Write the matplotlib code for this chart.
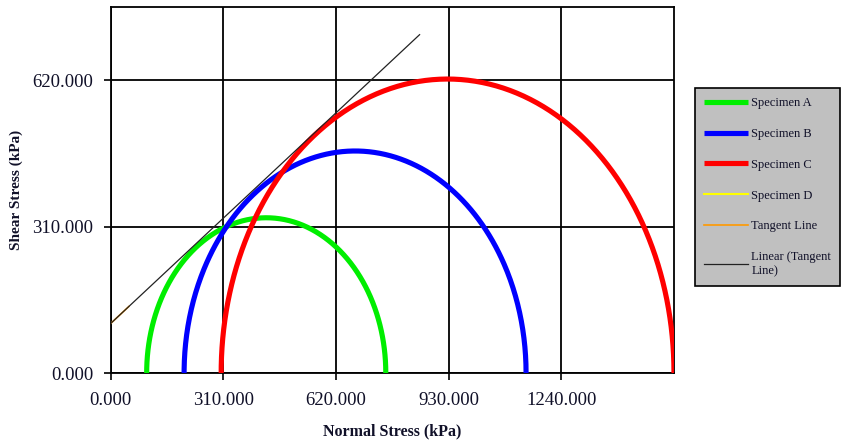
import numpy as np
import matplotlib
matplotlib.use("Agg")
import matplotlib.pyplot as plt

# Mohr circle inputs: minor and major principal stresses (kPa)
specimens = ["Specimen A", "Specimen B", "Specimen C", "Specimen D"]
sigma3 = [99.0, 202.0, 304.0, None]
sigma1 = [757.0, 1143.0, 1550.0, None]
colors = ["#00ee00", "#0000ff", "#ff0000", "#ffff00"]

# Tangent (failure envelope) points and linear fit
tangent_x = [0.0, 50.0]
tangent_y = [105.0, 141.0]
trend_x = [0.0, 850.0]
trend_y = [105.0, 717.0]

x_ticks = [0, 310, 620, 930, 1240]
y_ticks = [0, 310, 620]

plt.rcParams["font.family"] = ["Liberation Serif", "DejaVu Serif"]
text_color = "#101028"

fig = plt.figure(figsize=(8.45, 4.43), dpi=100)
ax = fig.add_axes([0.131, 0.158, 0.6666, 0.8255])

theta = np.linspace(0, np.pi, 400)
for name, s3, s1, col in zip(specimens, sigma3, sigma1, colors):
    if s3 is None:
        ax.plot([], [], color=col, lw=1.5, label=name)
        continue
    c = (s1 + s3) / 2.0
    r = (s1 - s3) / 2.0
    ax.plot(c + r * np.cos(theta), r * np.sin(theta), color=col, lw=3.7,
            solid_capstyle="butt", label=name, zorder=3)

ax.plot(tangent_x, tangent_y, color="#ff9900", lw=1.2, label="Tangent Line", zorder=4)
ax.plot(trend_x, trend_y, color="#222222", lw=0.9, label="Linear (Tangent\nLine)", zorder=5)

ax.set_xlim(0, 1550)
ax.set_ylim(0, 775)
ax.set_xticks(x_ticks)
ax.set_yticks(y_ticks)
ax.set_xticklabels([f"{v:.3f}" for v in x_ticks])
ax.set_yticklabels([f"{v:.3f}" for v in y_ticks])
ax.tick_params(direction="out", length=5, width=1.2, labelsize=13.5,
               labelcolor=text_color)
ax.tick_params(axis="y", pad=7.5)
ax.tick_params(axis="x", pad=9)
ax.grid(True, color="black", lw=1.3)
ax.set_axisbelow(True)
for sp in ax.spines.values():
    sp.set_linewidth(1.3)
    sp.set_color("black")

ax.set_xlabel("Normal Stress (kPa)", fontsize=11.5, fontweight="bold",
              color=text_color, labelpad=10)
ax.set_ylabel("Shear Stress (kPa)", fontsize=11, fontweight="bold",
              color=text_color, labelpad=7)

leg = ax.legend(loc="upper left", bbox_to_anchor=(695 / 845, 1 - 88 / 443),
                bbox_transform=fig.transFigure, fontsize=9, frameon=True,
                fancybox=False, handlelength=3.5, handletextpad=0.25,
                labelspacing=1.5, borderpad=0.75, borderaxespad=0)
for t in leg.get_texts():
    t.set_color(text_color)
leg.get_frame().set_facecolor("#c0c0c0")
leg.get_frame().set_edgecolor("black")
leg.get_frame().set_linewidth(1.2)
leg.get_frame().set_alpha(1)

fig.savefig("out.png", dpi=100)
